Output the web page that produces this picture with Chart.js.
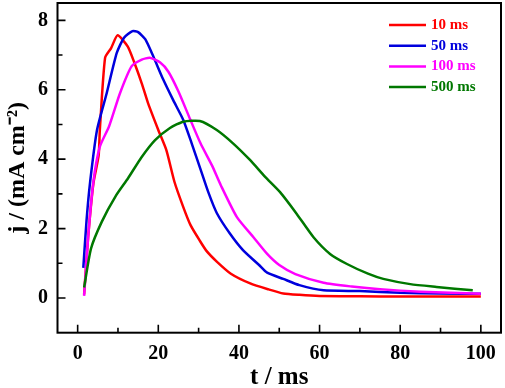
<!DOCTYPE html>
<html>
<head>
<meta charset="utf-8">
<script src="https://cdn.jsdelivr.net/npm/chart.js@4.4.0/dist/chart.umd.min.js"></script>
<style>
html, body { margin: 0; padding: 0; background: #fff; }
</style>
</head>
<body>
<canvas id="chart" width="505" height="388"></canvas>
<script>
// Series data (t in ms, j in mA cm^-2)
const seriesLabels = ["10 ms", "50 ms", "100 ms", "500 ms"];
const seriesColors = ["#ff0000", "#0000dd", "#ff00ff", "#007800"];

const t10 = [1.6, 2.6, 3.9, 5.2, 5.5, 6.8, 8.3, 9.9, 12.4, 14, 16, 17.5, 20, 22, 24, 26.2, 28, 30.3, 32, 34.5, 38, 42.8, 47.3, 51, 55, 60, 70, 80, 90, 100];
const j10 = [0.1, 1.75, 3.3, 4.1, 4.84, 6.92, 7.2, 7.57, 7.25, 6.8, 6.15, 5.6, 4.84, 4.26, 3.35, 2.62, 2.1, 1.65, 1.35, 1.05, 0.7, 0.42, 0.25, 0.13, 0.09, 0.06, 0.05, 0.04, 0.04, 0.04];

const t50 = [1.4, 2.2, 3.1, 4.8, 7.2, 9.7, 11.5, 13.6, 15, 16.8, 18.8, 21.2, 23.7, 26.2, 28.3, 30.5, 32.4, 34.5, 37.8, 41, 45, 47, 51, 55, 61, 70, 80, 90, 100];
const j50 = [0.87, 2.23, 3.35, 4.84, 5.9, 7.06, 7.5, 7.69, 7.66, 7.45, 6.95, 6.3, 5.7, 5.13, 4.45, 3.7, 3.05, 2.45, 1.85, 1.38, 0.95, 0.73, 0.55, 0.37, 0.22, 0.2, 0.15, 0.13, 0.12];

const t100 = [1.6, 2.6, 3.9, 5.5, 7.8, 10.5, 13.4, 15.9, 17.9, 20.4, 22.5, 25, 27.9, 30.5, 33.4, 35.5, 39.5, 43.6, 47, 50, 54, 61, 68, 75, 85, 100];
const j100 = [0.06, 1.75, 3.35, 4.36, 4.95, 5.9, 6.68, 6.87, 6.92, 6.79, 6.52, 5.95, 5.15, 4.45, 3.8, 3.25, 2.33, 1.75, 1.27, 0.95, 0.69, 0.44, 0.33, 0.25, 0.18, 0.12];

const t500 = [1.6, 3.3, 6, 9.5, 12.5, 15.8, 19.2, 22.9, 26.2, 30.3, 34.5, 38.6, 42.8, 46.5, 50.2, 54.3, 58.5, 62.6, 66.8, 72, 75.8, 82.5, 89, 98];
const j500 = [0.3, 1.42, 2.2, 2.95, 3.45, 4.05, 4.55, 4.9, 5.08, 5.1, 4.84, 4.45, 3.97, 3.49, 3.05, 2.43, 1.75, 1.27, 0.98, 0.7, 0.55, 0.4, 0.32, 0.22];

const xMajor = [0, 20, 40, 60, 80, 100];
const xMinor = [10, 30, 50, 70, 90];
const yMajor = [0, 2, 4, 6, 8];
const yMinor = [1, 3, 5, 7];

const serif = "'Liberation Serif', 'Times New Roman', serif";

function toPoints(ts, js) {
    return ts.map((t, i) => ({ x: t, y: js[i] }));
}

// Frame, inward ticks and the colored legend inside the plot
const framePlugin = {
    id: "frame",
    afterDraw(chart) {
        const { ctx, chartArea: a, scales: { x, y } } = chart;
        ctx.save();
        ctx.strokeStyle = "#000";
        ctx.lineWidth = 1.6;
        ctx.beginPath();
        xMajor.forEach(v => { const px = x.getPixelForValue(v); ctx.moveTo(px, a.bottom); ctx.lineTo(px, a.bottom - 8); });
        xMinor.forEach(v => { const px = x.getPixelForValue(v); ctx.moveTo(px, a.bottom); ctx.lineTo(px, a.bottom - 5); });
        yMajor.forEach(v => { const py = y.getPixelForValue(v); ctx.moveTo(a.left, py); ctx.lineTo(a.left + 8, py); });
        yMinor.forEach(v => { const py = y.getPixelForValue(v); ctx.moveTo(a.left, py); ctx.lineTo(a.left + 5, py); });
        ctx.stroke();
        ctx.lineWidth = 2;
        ctx.strokeRect(a.left, a.top, a.right - a.left, a.bottom - a.top);

        // legend
        ctx.font = "bold 15px " + serif;
        ctx.textBaseline = "middle";
        ctx.textAlign = "left";
        chart.data.datasets.forEach((ds, i) => {
            const ly = a.top + 22 + i * 20.7;
            ctx.strokeStyle = ds.borderColor;
            ctx.lineWidth = 2.5;
            ctx.beginPath();
            ctx.moveTo(389, ly);
            ctx.lineTo(426, ly);
            ctx.stroke();
            ctx.fillStyle = ds.borderColor;
            ctx.fillText(ds.label, 431, ly);
        });
        ctx.restore();
    }
};

// later series are painted over earlier ones
new Chart(document.getElementById("chart"), {
    type: "line",
    data: {
        datasets: [
            { label: seriesLabels[0], data: toPoints(t10, j10), borderColor: seriesColors[0], order: 4 },
            { label: seriesLabels[1], data: toPoints(t50, j50), borderColor: seriesColors[1], order: 3 },
            { label: seriesLabels[2], data: toPoints(t100, j100), borderColor: seriesColors[2], order: 2 },
            { label: seriesLabels[3], data: toPoints(t500, j500), borderColor: seriesColors[3], order: 1 }
        ]
    },
    options: {
        responsive: false,
        animation: false,
        layout: { padding: { top: 3, right: 4, left: 0, bottom: 0 } },
        elements: {
            point: { radius: 0 },
            line: { borderWidth: 2.5, tension: 0.2, fill: false }
        },
        plugins: {
            legend: { display: false },
            tooltip: { enabled: false }
        },
        scales: {
            x: {
                type: "linear",
                min: -5,
                max: 105,
                grid: { display: false, drawTicks: false },
                border: { display: false },
                afterBuildTicks: scale => { scale.ticks = xMajor.map(v => ({ value: v })); },
                afterFit: scale => {
                    scale.height = 55.3;
                    scale.paddingLeft = 0;
                    scale.paddingRight = 0;
                },
                ticks: {
                    color: "#000",
                    padding: 9,
                    font: { family: serif, size: 20, weight: "bold" }
                },
                title: {
                    display: true,
                    text: "t / ms",
                    color: "#000",
                    padding: { top: 0, bottom: 0 },
                    font: { family: serif, size: 25, weight: "bold", lineHeight: 0.8 }
                }
            },
            y: {
                min: -1,
                max: 8.5,
                grid: { display: false, drawTicks: false },
                border: { display: false },
                afterBuildTicks: scale => { scale.ticks = yMajor.map(v => ({ value: v })); },
                afterFit: scale => {
                    scale.width = 57.5;
                    scale.paddingTop = 0;
                    scale.paddingBottom = 0;
                },
                ticks: {
                    color: "#000",
                    padding: 9.5,
                    font: { family: serif, size: 20, weight: "bold" }
                },
                title: {
                    display: true,
                    text: "j / (mA cm\u207B\u00B2)",
                    color: "#000",
                    padding: { top: 3, bottom: 0 },
                    font: { family: serif, size: 24, weight: "bold", lineHeight: 1.2 }
                }
            }
        }
    },
    plugins: [framePlugin]
});
</script>
</body>
</html>
